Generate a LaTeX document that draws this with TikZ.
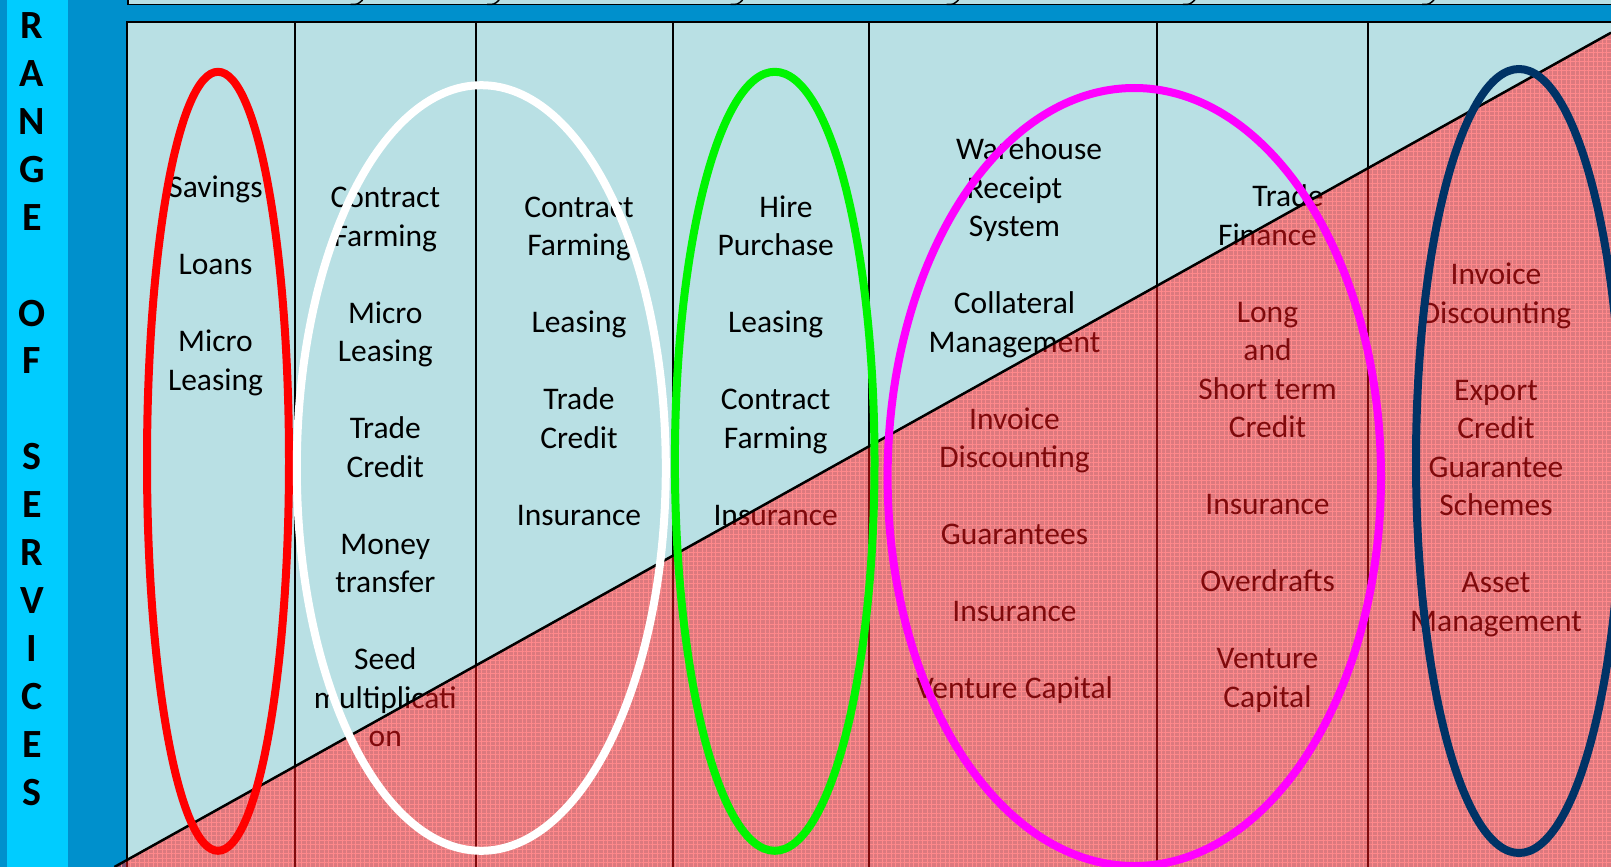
\documentclass[tikz,border=0pt]{standalone}
\usepackage{fontspec}
\setmainfont{Carlito}
\usetikzlibrary{patterns.meta}
\definecolor{deepband}{RGB}{0,144,204}
\definecolor{lightband}{RGB}{0,204,255}
\definecolor{cellbg}{RGB}{185,224,228}
\definecolor{risk}{RGB}{255,20,25}
\definecolor{navyring}{RGB}{0,51,102}
\definecolor{greenring}{RGB}{0,245,0}
\definecolor{magentaring}{RGB}{255,0,255}
\begin{document}
\begin{tikzpicture}[x=1pt,y=-1pt,
  item/.style={font=\fontsize{31.5}{38.5}\selectfont, anchor=mid, inner sep=0pt},
  letter/.style={font=\fontsize{40}{40}\selectfont\bfseries, anchor=center, inner sep=0pt},
  ring/.style={line width=8pt},
  rule/.style={line width=2pt}]
\useasboundingbox (0,0) rectangle (1611,867);
% background bands
\fill[deepband] (0,0) rectangle (1611,867);
\fill[lightband] (7,0) rectangle (68,867);
% strip along the top edge
\fill[cellbg] (128,0) rectangle (1611,4.5);
\draw[line width=1.5pt] (128,0) -- (128,4.5) -- (1611,4.5);
\foreach \x in {359.6,496.2,739.7,955.5,1191.8,1431}
  \draw[line width=1.5pt] ({\x-9},4.5) .. controls ({\x-2},4.5) .. ({\x+3},0);
% table body
\fill[cellbg] (127,22) rectangle (1611,867);
% texture of the lower triangle
\fill[pattern={Hatch[angle=0,distance=4.5pt,line width=0.9pt]}, pattern color=white, fill opacity=0.35]
  (114.4,867) -- (1611,32.7) -- (1611,867) -- cycle;
\draw[rule] (127,867) -- (127,22) -- (1611,22);
\foreach \x in {294.7,475.7,673,869.2,1156.5,1368}
  \draw[rule] (\x,22) -- (\x,867);
% vertical heading
\foreach \c [count=\i from 0] in {R,A,N,G,E,,O,F,,S,E,R,V,I,C,E,S}
  \node[letter] (v\i) at (32,{25.7+47.9*\i}) {\c};
% column texts
\foreach \t [count=\i from 0] in {Savings,,Loans,,Micro,Leasing}
  \node[item] (a\i) at (215.5,{195.2+38.5*\i}) {\t};
\foreach \t [count=\i from 0] in {Contract,Farming,,Micro,Leasing,,Trade,Credit,,Money,transfer,,Seed,multiplicati,on}
  \node[item] (b\i) at (385.3,{205.5+38.5*\i}) {\t};
\foreach \t [count=\i from 0] in {Contract,Farming,,Leasing,,Trade,Credit,,Insurance}
  \node[item] (c\i) at (579,{214.7+38.5*\i}) {\t};
\foreach \t [count=\i from 0] in {\hspace*{20.6pt}Hire,Purchase,,Leasing,,Contract,Farming,,Insurance}
  \node[item] (d\i) at (775.7,{214.7+38.5*\i}) {\t};
\foreach \t [count=\i from 0] in {\hspace*{29pt}Warehouse,Receipt,System,,Collateral,Management,,Invoice,Discounting,,Guarantees,,Insurance,,Venture Capital}
  \node[item] (e\i) at (1014.5,{157.2+38.5*\i}) {\t};
\foreach \t [count=\i from 0] in {\hspace*{41pt}Trade,Finance,,Long,and,Short term,Credit,,Insurance,,Overdrafts,,Venture,Capital}
  \node[item] (f\i) at (1267.5,{204.4+38.5*\i}) {\t};
\foreach \t [count=\i from 0] in {Invoice,Discounting,,Export,Credit,Guarantee,Schemes,,Asset,Management}
  \node[item] (g\i) at (1496,{282.5+38.5*\i}) {\t};
% translucent red over the lower triangle
\fill[risk, fill opacity=0.5] (114.4,867) -- (1611,32.7) -- (1611,867) -- cycle;
\draw[line width=2.5pt] (114.4,867) -- (1611,32.7);
% grouping rings
\draw[ring, red] (218,461.3) ellipse [x radius=71pt, y radius=389.5pt];
\draw[ring, white] (481.3,468) ellipse [x radius=184.5pt, y radius=382.8pt];
\draw[ring, greenring] (774.7,461.3) ellipse [x radius=99.8pt, y radius=389.5pt];
\draw[ring, magentaring] (1134.3,477) ellipse [x radius=246.7pt, y radius=389pt];
\draw[ring, navyring] (1519,461) ellipse [x radius=103pt, y radius=392pt];
\end{tikzpicture}
\end{document}
